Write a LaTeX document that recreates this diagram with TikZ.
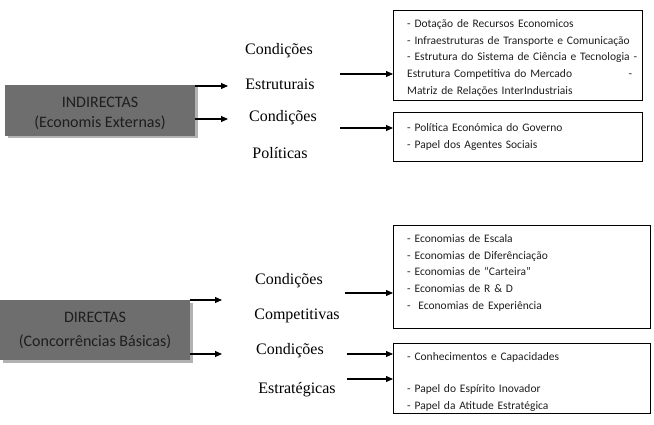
\documentclass[tikz,border=0pt]{standalone}
\usepackage{fontspec}
\setmainfont{Liberation Serif}
\newfontfamily\calib{Carlito}
\usetikzlibrary{arrows.meta,shadows}
\definecolor{boxgray}{HTML}{6E6E6E}
\definecolor{txtdark}{HTML}{1E1E1E}
\tikzset{
  graybox/.style={draw=none, fill=boxgray,
    drop shadow={shadow xshift=2.5pt, shadow yshift=-2.5pt, fill=black!30, opacity=1}},
  graytext/.style={text=txtdark, align=center, inner sep=0pt,
    font=\calib\fontsize{16}{20}\selectfont},
  frame/.style={draw, line width=0.9pt, anchor=north west},
  listtext/.style={anchor=north west, align=left, inner sep=0pt,
    font=\calib\fontsize{11.5}{16.9}\selectfont, text=txtdark, text width=240pt},
  label/.style={font=\fontsize{16}{18}\selectfont, inner sep=0pt},
  arr/.style={line width=1.1pt, -{Triangle[length=7pt,width=6pt]}}
}
\begin{document}
\begin{tikzpicture}[x=1pt,y=-1pt]
\useasboundingbox (0,0) rectangle (654,425);
% gray boxes
\node[graybox, minimum width=190pt, minimum height=51pt] (ind) at (100,110.5) {};
\node[graytext] (indt) at (100,113) {INDIRECTAS\\(Economis Externas)};
\node[graybox, minimum width=190pt, minimum height=60pt] (dir) at (95,330) {};
\node[graytext] (dirt) at (95,330) {DIRECTAS\\[4pt](Concorrências Básicas)};
% labels
\node[label] (l1) at (279,51) {Condições};
\node[label] (l2) at (280,84) {Estruturais};
\node[label] (l3) at (283,118) {Condições};
\node[label] (l4) at (280,153) {Políticas};
\node[label] (l5) at (289,281) {Condições};
\node[label] (l6) at (297,316) {Competitivas};
\node[label] (l7) at (290,351) {Condições};
\node[label] (l8) at (297,390) {Estratégicas};
% list boxes
\node[frame, minimum width=249pt, minimum height=90pt] (b1) at (393,10) {};
\node[listtext] (t1) at (407,19)
  {- Dotação de Recursos Economicos\\
   \mbox{- Infraestruturas de Transporte e Comunicação}\\
   \makebox[0pt][l]{- Estrutura do Sistema de Ciência e Tecnologia\ -}\\
   \makebox[225pt][l]{Estrutura Competitiva do Mercado\hfill-}\\
   Matriz de Relações InterIndustriais};
\node[frame, minimum width=249pt, minimum height=49pt] (b2) at (393,112) {};
\node[listtext] (t2) at (407,123)
  {- Política Económica do Governo\\
   - Papel dos Agentes Sociais};
\node[frame, minimum width=257pt, minimum height=103pt] (b3) at (393,225) {};
\node[listtext] (t3) at (407,234)
  {- Economias de Escala\\
   - Economias de Diferênciação\\
   - Economias de “Carteira”\\
   - Economias de R \& D\\
   -\ \ Economias de Experiência};
\node[frame, minimum width=257pt, minimum height=70pt] (b4) at (393,343) {};
\node[listtext] (t4) at (407,352)
  {- Conhecimentos e Capacidades\\[15.5pt]
   - Papel do Espírito Inovador\\
   - Papel da Atitude Estratégica};
% arrow coordinates
\coordinate (e1) at (228,86);
\coordinate (e2) at (228,119);
\coordinate (e3) at (222,300);
\coordinate (e4) at (222,354);
\coordinate (s1) at (340,74);
\coordinate (s2) at (340,128);
\coordinate (s3) at (345,293);
\coordinate (s4) at (347,354);
\coordinate (s5) at (347,379);
% arrows from gray boxes
\draw[arr] (ind.east |- e1) -- (e1);
\draw[arr] (ind.east |- e2) -- (e2);
\draw[arr] (dir.east |- e3) -- (e3);
\draw[arr] (dir.east |- e4) -- (e4);
% arrows to list boxes
\draw[arr] (s1) -- (b1.west |- s1);
\draw[arr] (s2) -- (b2.west |- s2);
\draw[arr] (s3) -- (b3.west |- s3);
\draw[arr] (s4) -- (b4.west |- s4);
\draw[arr] (s5) -- (b4.west |- s5);
\end{tikzpicture}
\end{document}
